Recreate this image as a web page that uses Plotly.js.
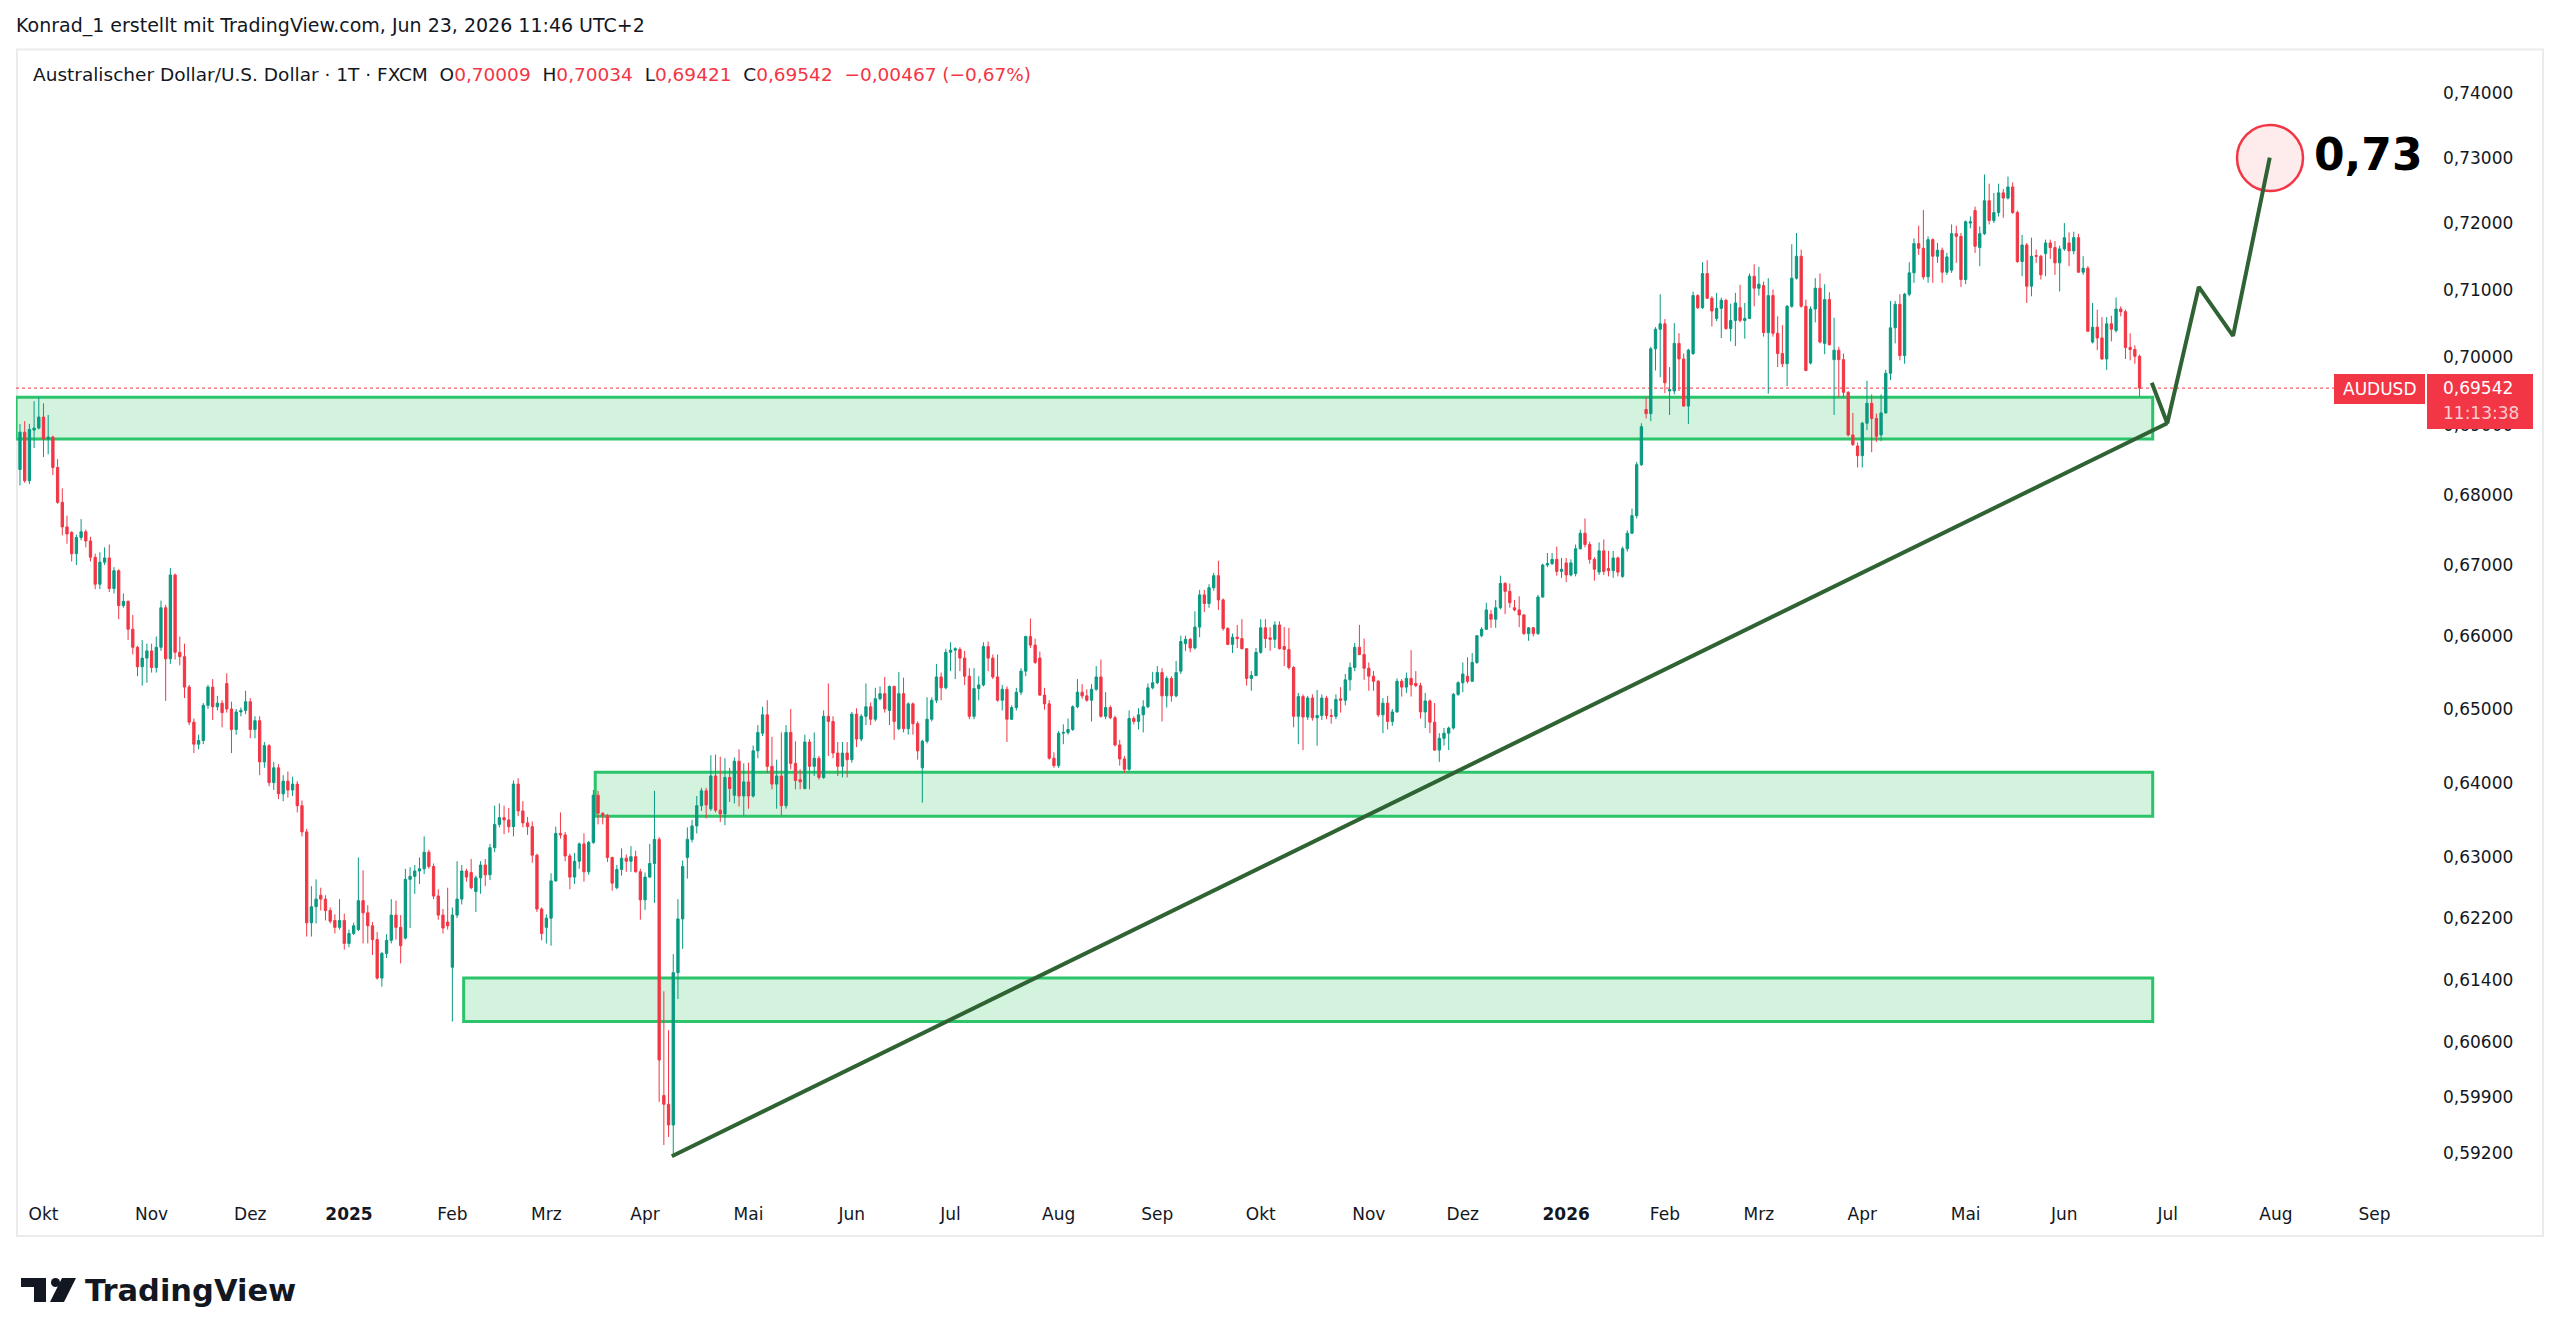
<!DOCTYPE html>
<html>
<head>
<meta charset="utf-8">
<script src="https://cdn.plot.ly/plotly-3.0.1.min.js"></script>
<style>html,body{margin:0;padding:0;background:#fff;}#chart{width:2560px;height:1344px;}</style>
</head>
<body>
<div id="chart"></div>
<script>
// ---------------- DATA (AUD/USD daily, FXCM) ----------------
const firstDay = '2024-09-24';
const holidays = ['2024-12-25', '2025-01-01', '2025-12-25', '2026-01-01'];

const open = [
.6836,.6890,.6820,.6893,.6896,.6912,.6880,.6883,.6839,.6789,.6754,.6746,.6716,.6739,.6747,.6734,.6711,.6673,.6704,.6710,
.6667,.6692,.6643,.6649,.6610,.6585,.6558,.6570,.6580,.6557,.6585,.6640,.6569,.6686,.6578,.6572,.6530,.6482,.6452,.6457,
.6505,.6530,.6503,.6508,.6535,.6500,.6472,.6496,.6498,.6510,.6472,.6484,.6428,.6450,.6400,.6420,.6385,.6402,.6390,.6398,
.6369,.6334,.6214,.6235,.6250,.6245,.6230,.6217,.6208,.6217,.6187,.6200,.6205,.6243,.6227,.6210,.6192,.6142,.6174,.6191,
.6224,.6208,.6194,.6271,.6275,.6282,.6285,.6307,.6288,.6249,.6224,.6215,.6156,.6224,.6245,.6282,.6280,.6255,.6273,.6290,
.6277,.6313,.6344,.6353,.6350,.6341,.6398,.6362,.6346,.6341,.6303,.6232,.6208,.6220,.6269,.6332,.6330,.6302,.6274,.6295,
.6318,.6281,.6320,.6383,.6359,.6356,.6300,.6260,.6284,.6299,.6295,.6301,.6281,.6244,.6274,.6292,.6324,.5992,.5981,.5955,
.6149,.6219,.6300,.6324,.6342,.6369,.6389,.6365,.6409,.6363,.6358,.6407,.6383,.6429,.6382,.6401,.6382,.6443,.6467,.6492,
.6422,.6398,.6409,.6369,.6468,.6426,.6404,.6392,.6455,.6422,.6433,.6407,.6490,.6483,.6440,.6422,.6440,.6431,.6493,.6459,
.6490,.6503,.6486,.6514,.6521,.6498,.6531,.6473,.6521,.6473,.6507,.6480,.6420,.6456,.6486,.6512,.6544,.6529,.6578,.6581,
.6582,.6570,.6545,.6490,.6528,.6533,.6586,.6570,.6544,.6512,.6527,.6486,.6502,.6523,.6552,.6600,.6588,.6570,.6519,.6507,
.6433,.6423,.6467,.6468,.6472,.6503,.6523,.6518,.6512,.6527,.6544,.6490,.6502,.6488,.6451,.6432,.6418,.6487,.6483,.6492,
.6503,.6529,.6536,.6550,.6518,.6542,.6518,.6552,.6590,.6596,.6584,.6613,.6658,.6646,.6668,.6685,.6651,.6611,.6589,.6599,
.6597,.6583,.6542,.6546,.6578,.6612,.6598,.6596,.6616,.6586,.6582,.6557,.6490,.6517,.6489,.6515,.6488,.6491,.6515,.6491,
.6490,.6514,.6512,.6540,.6557,.6585,.6575,.6556,.6545,.6538,.6492,.6508,.6483,.6496,.6538,.6530,.6542,.6535,.6532,.6496,
.6511,.6482,.6444,.6460,.6467,.6474,.6520,.6536,.6545,.6538,.6564,.6601,.6610,.6631,.6624,.6640,.6674,.6663,.6640,.6637,
.6630,.6604,.6612,.6604,.6655,.6700,.6702,.6708,.6691,.6703,.6686,.6688,.6723,.6745,.6729,.6708,.6690,.6720,.6695,.6692,
.6710,.6684,.6723,.6745,.6770,.6843,.6923,.6917,.7012,.7041,.7049,.6950,.6950,.7020,.6997,.6928,.7005,.7091,.7073,.7124,
.7087,.7057,.7072,.7084,.7042,.7054,.7073,.7054,.7057,.7120,.7102,.7106,.7036,.7091,.7035,.7005,.6990,.7075,.7117,.7150,
.7075,.6991,.7071,.7102,.7020,.7085,.6996,.7010,.6996,.6948,.6886,.6870,.6856,.6903,.6932,.6910,.6886,.6918,.6976,.7043,
.7078,.7002,.7093,.7125,.7169,.7162,.7119,.7175,.7150,.7159,.7126,.7129,.7184,.7180,.7115,.7200,.7219,.7163,.7184,.7234,
.7204,.7216,.7246,.7238,.7255,.7216,.7142,.7167,.7105,.7151,.7150,.7154,.7170,.7163,.7140,.7161,.7170,.7158,.7178,.7126,
.7132,.7022,.7044,.7028,.6997,.7049,.7039,.7071,.7067,.7014,.7011,.70009
];
const high = [
.6902,.6906,.6902,.6935,.6941,.6932,.6915,.6885,.6851,.6809,.6770,.6748,.6743,.6765,.6750,.6740,.6716,.6718,.6725,.6729,
.6697,.6694,.6660,.6650,.6630,.6587,.6595,.6590,.6590,.6600,.6650,.6644,.6696,.6688,.6600,.6590,.6533,.6487,.6465,.6508,
.6533,.6541,.6518,.6512,.6549,.6510,.6500,.6502,.6525,.6515,.6490,.6490,.6455,.6452,.6428,.6425,.6410,.6415,.6408,.6402,
.6376,.6338,.6262,.6271,.6260,.6250,.6234,.6225,.6245,.6226,.6205,.6214,.6300,.6283,.6237,.6215,.6202,.6176,.6199,.6245,
.6243,.6224,.6285,.6287,.6290,.6300,.6328,.6310,.6292,.6258,.6232,.6260,.6234,.6295,.6290,.6285,.6298,.6276,.6295,.6298,
.6318,.6369,.6372,.6369,.6366,.6403,.6406,.6375,.6354,.6348,.6305,.6234,.6225,.6279,.6341,.6360,.6334,.6305,.6306,.6320,
.6332,.6322,.6390,.6389,.6360,.6358,.6301,.6290,.6312,.6304,.6315,.6309,.6285,.6280,.6318,.6389,.6327,.6125,.6075,.6173,
.6245,.6296,.6340,.6350,.6382,.6393,.6393,.6437,.6438,.6435,.6433,.6420,.6434,.6445,.6426,.6427,.6450,.6478,.6503,.6512,
.6462,.6431,.6468,.6478,.6500,.6456,.6418,.6465,.6459,.6468,.6436,.6498,.6535,.6490,.6455,.6455,.6455,.6496,.6501,.6493,
.6535,.6509,.6529,.6531,.6544,.6532,.6532,.6551,.6543,.6509,.6509,.6483,.6458,.6516,.6516,.6562,.6550,.6583,.6592,.6585,
.6585,.6580,.6556,.6556,.6545,.6592,.6593,.6575,.6575,.6533,.6531,.6505,.6529,.6556,.6601,.6625,.6597,.6579,.6529,.6512,
.6441,.6470,.6479,.6487,.6505,.6541,.6534,.6527,.6534,.6559,.6568,.6523,.6505,.6491,.6458,.6436,.6498,.6490,.6501,.6512,
.6535,.6551,.6559,.6556,.6545,.6545,.6566,.6601,.6601,.6598,.6635,.6665,.6665,.6673,.6689,.6706,.6653,.6613,.6604,.6616,
.6624,.6584,.6552,.6584,.6624,.6624,.6613,.6621,.6621,.6613,.6612,.6559,.6522,.6520,.6518,.6520,.6526,.6520,.6518,.6500,
.6520,.6530,.6548,.6564,.6591,.6616,.6597,.6564,.6552,.6540,.6515,.6518,.6500,.6542,.6541,.6550,.6581,.6552,.6536,.6522,
.6513,.6508,.6467,.6474,.6476,.6522,.6538,.6564,.6571,.6577,.6602,.6613,.6647,.6637,.6651,.6685,.6676,.6674,.6651,.6656,
.6631,.6613,.6613,.6658,.6702,.6717,.6717,.6726,.6710,.6710,.6708,.6729,.6750,.6766,.6733,.6711,.6732,.6736,.6720,.6720,
.6712,.6726,.6749,.6780,.6847,.6903,.6941,.7015,.7044,.7093,.7056,.6985,.7050,.7035,.7005,.7012,.7097,.7093,.7141,.7144,
.7090,.7095,.7088,.7086,.7079,.7095,.7107,.7080,.7124,.7138,.7134,.7112,.7117,.7100,.7060,.7047,.7077,.7168,.7185,.7160,
.7085,.7075,.7117,.7124,.7108,.7096,.7058,.7015,.7005,.6950,.6918,.6875,.6905,.6965,.6945,.6917,.6945,.6981,.7083,.7083,
.7093,.7095,.7141,.7177,.7196,.7220,.7180,.7177,.7170,.7163,.7155,.7198,.7196,.7185,.7204,.7210,.7225,.7195,.7274,.7260,
.7246,.7260,.7252,.7271,.7262,.7219,.7182,.7170,.7178,.7160,.7152,.7175,.7175,.7173,.7166,.7200,.7186,.7187,.7184,.7150,
.7135,.7080,.7070,.7059,.7059,.7061,.7088,.7075,.7070,.7035,.7017,.70034
];
const low = [
.6813,.6817,.6815,.6867,.6894,.6854,.6858,.6828,.6787,.6742,.6730,.6705,.6700,.6735,.6725,.6705,.6666,.6666,.6700,.6662,
.6660,.6624,.6640,.6595,.6575,.6545,.6532,.6536,.6550,.6550,.6580,.6511,.6562,.6568,.6560,.6515,.6478,.6440,.6445,.6452,
.6500,.6485,.6498,.6475,.6495,.6440,.6465,.6490,.6493,.6460,.6460,.6410,.6420,.6395,.6390,.6378,.6375,.6380,.6382,.6360,
.6328,.6196,.6196,.6213,.6230,.6217,.6213,.6200,.6205,.6179,.6182,.6198,.6203,.6187,.6187,.6172,.6140,.6131,.6168,.6187,
.6192,.6161,.6192,.6207,.6252,.6265,.6278,.6285,.6245,.6218,.6200,.6205,.6086,.6220,.6238,.6268,.6258,.6228,.6252,.6262,
.6270,.6307,.6340,.6331,.6333,.6328,.6355,.6340,.6330,.6293,.6228,.6191,.6187,.6184,.6268,.6325,.6295,.6258,.6265,.6285,
.6268,.6277,.6318,.6344,.6344,.6294,.6256,.6258,.6276,.6281,.6281,.6280,.6218,.6231,.6273,.6240,.5984,.5930,.5940,.5918,
.6115,.6180,.6272,.6320,.6332,.6362,.6352,.6362,.6360,.6347,.6343,.6374,.6372,.6368,.6356,.6365,.6380,.6433,.6463,.6413,
.6391,.6365,.6356,.6365,.6418,.6391,.6391,.6391,.6391,.6409,.6404,.6405,.6436,.6433,.6409,.6407,.6407,.6427,.6448,.6456,
.6478,.6478,.6483,.6512,.6495,.6478,.6458,.6471,.6468,.6465,.6465,.6431,.6373,.6453,.6483,.6508,.6512,.6527,.6552,.6541,
.6552,.6533,.6486,.6486,.6512,.6531,.6552,.6541,.6510,.6498,.6455,.6485,.6498,.6519,.6545,.6584,.6562,.6518,.6499,.6431,
.6420,.6420,.6452,.6465,.6470,.6501,.6514,.6510,.6483,.6525,.6488,.6486,.6486,.6449,.6423,.6413,.6416,.6479,.6472,.6468,
.6501,.6527,.6534,.6483,.6502,.6510,.6516,.6548,.6580,.6578,.6582,.6599,.6634,.6640,.6664,.6637,.6608,.6588,.6577,.6584,
.6582,.6532,.6525,.6545,.6576,.6584,.6580,.6584,.6582,.6559,.6554,.6475,.6452,.6444,.6485,.6484,.6450,.6485,.6486,.6480,
.6486,.6495,.6505,.6525,.6552,.6574,.6540,.6525,.6525,.6489,.6467,.6472,.6477,.6495,.6517,.6522,.6517,.6530,.6487,.6474,
.6467,.6443,.6428,.6450,.6444,.6472,.6518,.6523,.6535,.6537,.6562,.6599,.6609,.6612,.6612,.6638,.6631,.6640,.6635,.6613,
.6602,.6594,.6600,.6602,.6654,.6697,.6700,.6685,.6682,.6676,.6684,.6684,.6722,.6725,.6702,.6678,.6686,.6686,.6684,.6682,
.6684,.6682,.6719,.6744,.6766,.6841,.6910,.6906,.6980,.6970,.6947,.6915,.6945,.6950,.6927,.6902,.7003,.7071,.7071,.7086,
.7045,.7053,.7028,.7040,.7023,.7016,.7051,.7027,.7056,.7075,.7091,.7030,.6946,.7030,.6985,.6985,.6957,.7073,.7115,.7073,
.6979,.6989,.7051,.7020,.7004,.7017,.6915,.6941,.6941,.6884,.6870,.6839,.6839,.6893,.6861,.6876,.6877,.6917,.6966,.7020,
.6995,.6990,.7090,.7110,.7152,.7115,.7110,.7110,.7140,.7110,.7122,.7125,.7140,.7104,.7108,.7192,.7155,.7135,.7182,.7198,
.7200,.7210,.7208,.7236,.7214,.7140,.7120,.7080,.7090,.7140,.7115,.7120,.7146,.7122,.7097,.7158,.7135,.7153,.7125,.7122,
.7037,.7020,.7010,.6996,.6981,.7023,.7036,.7060,.6997,.6995,.6990,.69421
];
const close = [
.6890,.6820,.6894,.6896,.6912,.6880,.6883,.6839,.6789,.6754,.6744,.6716,.6739,.6747,.6734,.6711,.6673,.6704,.6710,.6667,
.6692,.6643,.6649,.6610,.6585,.6558,.6570,.6580,.6557,.6585,.6640,.6569,.6686,.6578,.6572,.6530,.6482,.6452,.6457,.6505,
.6530,.6503,.6508,.6495,.6500,.6472,.6496,.6498,.6510,.6472,.6484,.6428,.6450,.6400,.6420,.6385,.6402,.6390,.6398,.6369,
.6334,.6214,.6235,.6245,.6245,.6230,.6216,.6208,.6217,.6187,.6200,.6210,.6243,.6227,.6210,.6192,.6142,.6174,.6191,.6224,
.6208,.6184,.6271,.6275,.6282,.6285,.6307,.6288,.6249,.6224,.6207,.6210,.6224,.6245,.6282,.6274,.6260,.6273,.6290,.6277,
.6313,.6344,.6353,.6350,.6341,.6398,.6362,.6346,.6341,.6303,.6232,.6200,.6220,.6269,.6332,.6330,.6302,.6274,.6295,.6318,
.6281,.6320,.6383,.6359,.6356,.6300,.6266,.6284,.6299,.6295,.6301,.6281,.6244,.6274,.6292,.6324,.6037,.5981,.5955,.6149,
.6219,.6288,.6324,.6342,.6369,.6389,.6370,.6409,.6363,.6358,.6407,.6392,.6429,.6382,.6401,.6382,.6443,.6468,.6492,.6422,
.6398,.6409,.6369,.6468,.6426,.6403,.6401,.6455,.6422,.6433,.6407,.6490,.6483,.6440,.6422,.6440,.6431,.6493,.6459,.6490,
.6503,.6486,.6514,.6521,.6500,.6531,.6483,.6521,.6473,.6507,.6480,.6443,.6456,.6486,.6512,.6544,.6529,.6578,.6581,.6583,
.6570,.6545,.6490,.6528,.6533,.6586,.6570,.6544,.6512,.6527,.6486,.6502,.6523,.6552,.6600,.6588,.6564,.6519,.6507,.6433,
.6423,.6467,.6468,.6472,.6503,.6523,.6518,.6512,.6527,.6544,.6490,.6502,.6488,.6451,.6432,.6418,.6487,.6483,.6492,.6503,
.6529,.6536,.6550,.6518,.6542,.6518,.6550,.6593,.6596,.6584,.6613,.6658,.6646,.6668,.6685,.6651,.6611,.6589,.6599,.6597,
.6583,.6542,.6546,.6578,.6612,.6597,.6596,.6616,.6583,.6582,.6557,.6490,.6517,.6489,.6515,.6488,.6491,.6515,.6491,.6490,
.6513,.6512,.6540,.6557,.6585,.6575,.6556,.6545,.6538,.6492,.6508,.6483,.6496,.6538,.6530,.6542,.6533,.6532,.6496,.6511,
.6482,.6444,.6460,.6467,.6474,.6520,.6536,.6548,.6538,.6564,.6601,.6610,.6637,.6624,.6640,.6674,.6663,.6647,.6637,.6630,
.6604,.6612,.6604,.6655,.6700,.6702,.6708,.6691,.6694,.6686,.6703,.6723,.6745,.6729,.6708,.6694,.6720,.6691,.6692,.6710,
.6690,.6723,.6745,.6770,.6843,.6898,.6917,.7012,.7041,.7049,.6962,.6952,.7020,.6997,.6928,.7010,.7091,.7073,.7124,.7087,
.7068,.7072,.7084,.7042,.7054,.7080,.7054,.7057,.7120,.7102,.7108,.7036,.7091,.7035,.7005,.6990,.7075,.7117,.7150,.7075,
.6980,.7071,.7102,.7022,.7085,.7018,.7010,.6996,.6948,.6886,.6872,.6856,.6903,.6932,.6910,.6884,.6918,.6976,.7043,.7078,
.7002,.7093,.7125,.7169,.7162,.7119,.7175,.7150,.7159,.7126,.7149,.7184,.7180,.7115,.7202,.7202,.7165,.7184,.7234,.7204,
.7216,.7246,.7238,.7255,.7216,.7142,.7167,.7105,.7150,.7150,.7122,.7170,.7163,.7140,.7161,.7178,.7158,.7178,.7126,.7132,
.7038,.7044,.7028,.6997,.7049,.7041,.7071,.7067,.7014,.7011,.7001,.69542
];

// Month ticks (first trading day of each month) and their labels
const monthTickDates = ['2024-10-01','2024-11-01','2024-12-02','2025-01-02','2025-02-03','2025-03-03','2025-04-01',
  '2025-05-01','2025-06-02','2025-07-01','2025-08-01','2025-09-01','2025-10-01','2025-11-03','2025-12-01','2026-01-02',
  '2026-02-02','2026-03-02','2026-04-01','2026-05-01','2026-06-01','2026-07-01','2026-08-03','2026-09-01'];
const monthTickLabels = ['Okt','Nov','Dez','<b>2025</b>','Feb','Mrz','Apr','Mai','Jun','Jul','Aug','Sep',
  'Okt','Nov','Dez','<b>2026</b>','Feb','Mrz','Apr','Mai','Jun','Jul','Aug','Sep'];

// Price scale ticks
const priceTicks = [0.592,0.599,0.606,0.614,0.622,0.630,0.640,0.650,0.660,0.670,0.680,0.690,0.700,0.710,0.720,0.730,0.740];

// Support zones [from, to, low, high]
const zoneFrom = ['2024-09-23 15:36', '2025-03-17 21:36', '2025-02-05 21:36'];
const zoneTo   = ['2026-06-26 07:12', '2026-06-26 07:12', '2026-06-26 07:12'];
const zoneLow  = [0.6880, 0.6355, 0.6086];
const zoneHigh = [0.6941, 0.6414, 0.6142];

// Rising trend line
const trendX = ['2025-04-09 04:48', '2026-07-01 09:36'];
const trendY = [0.5916, 0.6903];

// Projected path to the target
const pathX = ['2026-06-26 02:24', '2026-07-01 09:36', '2026-07-10 02:24', '2026-07-21 09:36', '2026-07-31 04:48'];
const pathY = [0.6962, 0.6903, 0.7104, 0.7031, 0.7300];

const targetLabel = '0,73';
const lastPrice = 0.69542;
const lastPriceLabel = '0,69542';
const countdown = '11:13:38';
const symbol = 'AUDUSD';

// ---------------- BUILD ----------------
function tradingDays(start, n) {
  const out = [];
  const d = new Date(start + 'T00:00:00Z');
  while (out.length < n) {
    const wd = d.getUTCDay();
    const s = d.toISOString().slice(0, 10);
    if (wd !== 0 && wd !== 6 && holidays.indexOf(s) < 0) out.push(s + ' 12:00');
    d.setUTCDate(d.getUTCDate() + 1);
  }
  return out;
}
const dates = tradingDays(firstDay, close.length);

const W = 2560, H = 1344;
const L = 16, R = 2430, T = 49, B = 1196;
const px = X => (X - L) / (R - L);
const py = Y => (B - Y) / (B - T);

const GREEN = '#089981', RED = '#F23645', INK = '#131722', LINE = '#2F6333';
const FONT = 'DejaVu Sans';

const traces = [
  {
    type: 'candlestick', x: dates, open: open, high: high, low: low, close: close,
    increasing: {line: {color: GREEN, width: 1}, fillcolor: GREEN},
    decreasing: {line: {color: RED, width: 1}, fillcolor: RED},
    whiskerwidth: 0, hoverinfo: 'skip', showlegend: false
  },
  {
    type: 'scatter', mode: 'lines', x: trendX, y: trendY,
    line: {color: LINE, width: 4}, hoverinfo: 'skip', showlegend: false
  },
  {
    type: 'scatter', mode: 'lines', x: pathX, y: pathY,
    line: {color: LINE, width: 4}, hoverinfo: 'skip', showlegend: false
  }
];

const shapes = [];
// pane border
shapes.push({type: 'rect', xref: 'paper', yref: 'paper', x0: px(17), x1: px(2543), y0: py(1236), y1: py(49.5),
  line: {color: '#EBEBEB', width: 2}, fillcolor: 'rgba(0,0,0,0)', layer: 'below'});
// zones
for (let i = 0; i < zoneFrom.length; i++) {
  shapes.push({type: 'rect', xref: 'x', yref: 'y', x0: zoneFrom[i], x1: zoneTo[i], y0: zoneLow[i], y1: zoneHigh[i],
    line: {color: '#2BC46A', width: 3}, fillcolor: 'rgba(34,197,94,0.2)', layer: 'below'});
}
// last price dotted line
shapes.push({type: 'line', xref: 'paper', yref: 'y', x0: 0, x1: 1, y0: lastPrice, y1: lastPrice,
  line: {color: RED, width: 1, dash: 'dot'}, layer: 'below'});
// target circle (drawn around the path's end point)
shapes.push({type: 'circle', xref: 'paper', yref: 'paper', x0: px(2237), x1: px(2303), y0: py(191), y1: py(125),
  line: {color: RED, width: 2.5}, fillcolor: 'rgba(242,54,69,0.10)', layer: 'below'});
// symbol + price labels on the scale
shapes.push({type: 'rect', xref: 'paper', yref: 'paper', x0: px(2334), x1: px(2425), y0: py(404), y1: py(374),
  line: {width: 0}, fillcolor: RED, layer: 'above'});
shapes.push({type: 'rect', xref: 'paper', yref: 'paper', x0: px(2427), x1: px(2533), y0: py(429), y1: py(374),
  line: {width: 0}, fillcolor: RED, layer: 'above'});
// TradingView logo mark
shapes.push({type: 'rect', xref: 'paper', yref: 'paper', x0: px(21), x1: px(46), y0: py(1287), y1: py(1278),
  line: {width: 0}, fillcolor: INK, layer: 'above'});
shapes.push({type: 'rect', xref: 'paper', yref: 'paper', x0: px(34), x1: px(46), y0: py(1302), y1: py(1278),
  line: {width: 0}, fillcolor: INK, layer: 'above'});
shapes.push({type: 'circle', xref: 'paper', yref: 'paper', x0: px(51), x1: px(60), y0: py(1287), y1: py(1278),
  line: {width: 0}, fillcolor: INK, layer: 'above'});
shapes.push({type: 'path', xref: 'paper', yref: 'paper',
  path: 'M ' + px(62) + ' ' + py(1278) + ' L ' + px(76) + ' ' + py(1278) + ' L ' + px(64) + ' ' + py(1302) + ' L ' + px(50) + ' ' + py(1302) + ' Z',
  line: {width: 0}, fillcolor: INK, layer: 'above'});

const redSpan = s => '<span style="color:' + RED + '">' + s + '</span>';
const legendText = 'Australischer Dollar/U.S. Dollar \u00B7 1T \u00B7 FXCM  ' +
  'O' + redSpan('0,70009') + '  H' + redSpan('0,70034') + '  L' + redSpan('0,69421') + '  C' + redSpan('0,69542') +
  '  ' + redSpan('\u22120,00467 (\u22120,67%)');

const annotations = [
  {xref: 'paper', yref: 'paper', x: px(14), y: py(26), xanchor: 'left', yanchor: 'middle', showarrow: false,
   text: 'Konrad_1 erstellt mit TradingView.com, Jun 23, 2026 11:46 UTC+2', font: {family: FONT, size: 19, color: INK}},
  {xref: 'paper', yref: 'paper', x: px(31), y: py(75), xanchor: 'left', yanchor: 'middle', showarrow: false,
   text: legendText, font: {family: FONT, size: 18.5, color: INK}},
  {xref: 'x', yref: 'y', x: '2026-08-13 04:48', y: Math.log10(0.7305), xanchor: 'left', yanchor: 'middle', showarrow: false,
   text: '<b>' + targetLabel + '</b>', font: {family: FONT, size: 44, color: '#000000'}},
  {xref: 'paper', yref: 'paper', x: px(2380), y: py(389), xanchor: 'center', yanchor: 'middle', showarrow: false,
   text: symbol, font: {family: FONT, size: 17, color: '#FFFFFF'}},
  {xref: 'paper', yref: 'paper', x: px(2441), y: py(388), xanchor: 'left', yanchor: 'middle', showarrow: false,
   text: lastPriceLabel, font: {family: FONT, size: 17, color: '#FFFFFF'}},
  {xref: 'paper', yref: 'paper', x: px(2441), y: py(413), xanchor: 'left', yanchor: 'middle', showarrow: false,
   text: countdown, font: {family: FONT, size: 17, color: 'rgba(255,255,255,0.75)'}},
  {xref: 'paper', yref: 'paper', x: px(83), y: py(1290), xanchor: 'left', yanchor: 'middle', showarrow: false,
   text: '<b>TradingView</b>', font: {family: FONT, size: 30.5, color: INK}}
];

const layout = {
  width: W, height: H,
  margin: {l: L, r: W - R, t: T, b: H - B, pad: 0},
  paper_bgcolor: '#FFFFFF', plot_bgcolor: '#FFFFFF',
  showlegend: false, hovermode: false,
  font: {family: FONT, size: 17, color: INK},
  xaxis: {
    type: 'date',
    range: ['2024-09-23 15:36', '2026-09-17 07:12'],
    rangebreaks: [{bounds: ['sat', 'mon']}, {values: holidays}],
    rangeslider: {visible: false},
    tickmode: 'array',
    tickvals: monthTickDates.map(d => d + ' 12:00'),
    ticktext: monthTickLabels,
    tickfont: {family: FONT, size: 17, color: INK},
    ticks: '', showgrid: false, zeroline: false, showline: false,
    ticklabelstandoff: 6, automargin: false, fixedrange: true
  },
  yaxis: {
    type: 'log', side: 'right',
    range: [-0.23161, -0.12675],
    tickmode: 'array',
    tickvals: priceTicks,
    ticktext: priceTicks.map(v => v.toFixed(5).replace('.', ',')),
    tickfont: {family: FONT, size: 17, color: INK},
    ticks: '', showgrid: false, zeroline: false, showline: false,
    ticklabelstandoff: 12, automargin: false, fixedrange: true
  },
  shapes: shapes,
  annotations: annotations
};

Plotly.newPlot('chart', traces, layout, {displayModeBar: false, staticPlot: true});
</script>
</body>
</html>
